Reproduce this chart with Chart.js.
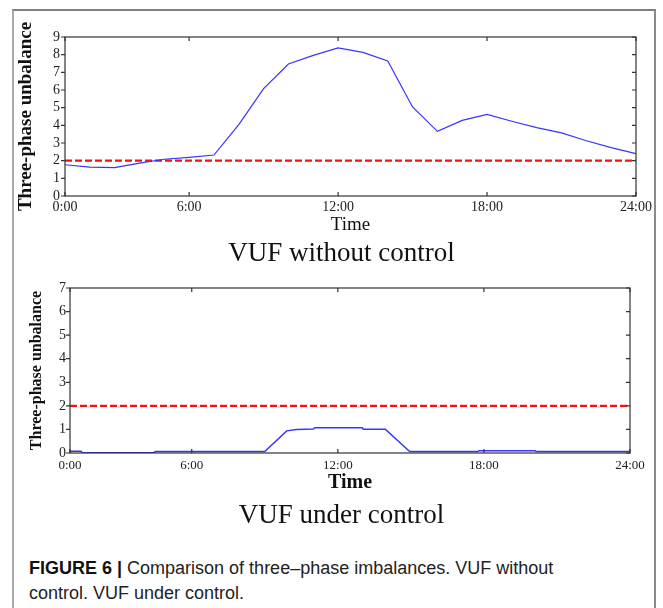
<!DOCTYPE html>
<html>
<head>
<meta charset="utf-8">
<script src="https://cdn.jsdelivr.net/npm/chart.js@4.4.1/dist/chart.umd.min.js"></script>
<style>
  body { margin: 0; width: 663px; height: 608px; background: #fff; overflow: hidden; position: relative; }
  .frame { position: absolute; left: 12px; top: 9px; width: 640px; height: 640px; border: 2px solid #aaa; border-top-color: #808080; border-right-color: #8a8a8a; }
  .box { position: absolute; left: 0; width: 663px; }
  .sub { position: absolute; left: 0; width: 683px; text-align: center; font-family: 'Liberation Serif', 'Times New Roman', serif; font-size: 27px; line-height: 27px; color: #111; }
  .caption { position: absolute; left: 29px; top: 556px; font-family: 'Liberation Sans', Arial, sans-serif; font-size: 18px; line-height: 25px; color: #222; white-space: nowrap; }
  .caption b { color: #111; }
</style>
</head>
<body>
<div class="frame"></div>

<div class="box" style="top:0;height:240px"><canvas id="noControl"></canvas></div>
<div class="sub" style="top:239px">VUF without control</div>

<div class="box" style="top:270px;height:230px"><canvas id="underControl"></canvas></div>
<div class="sub" style="top:501px">VUF under control</div>

<div class="caption"><b>FIGURE 6 |</b> Comparison of three–phase imbalances. VUF without<br>control. VUF under control.</div>

<script>
// x axis runs over hours 1..24, labelled as clock times
const xTickHours = [1, 6, 12, 18, 24];
const xTickLabels = ['0:00', '6:00', '12:00', '18:00', '24:00'];

// VUF without control (hourly)
const hours = [1, 2, 3, 4, 5, 6, 7, 8, 9, 10, 11, 12, 13, 14, 15, 16, 17, 18, 19, 20, 21, 22, 23, 24];
const vufNoControl = [1.77, 1.64, 1.61, 1.86, 2.08, 2.19, 2.32, 4.04, 6.08, 7.47, 7.96, 8.38, 8.13, 7.64, 5.04, 3.66, 4.28, 4.62, 4.23, 3.87, 3.57, 3.13, 2.74, 2.40];

// VUF under control
const ctrlHours = [1, 1.45, 1.5, 4.45, 4.5, 9, 9.9, 10.3, 11, 11.05, 13, 13.05, 13.95, 14.95, 17.75, 17.8, 20.1, 20.15, 24];
const vufControl = [0.07, 0.07, 0.01, 0.01, 0.06, 0.06, 0.94, 1.0, 1.02, 1.07, 1.07, 1.01, 1.01, 0.06, 0.06, 0.1, 0.1, 0.06, 0.06];

const vufLimit = 2;

const serif = "'Liberation Serif', 'Times New Roman', serif";

// MATLAB style box with small ticks
const boxTicks = {
  id: 'boxTicks',
  afterDatasetsDraw(chart) {
    const { ctx, chartArea: a, scales: { x, y } } = chart;
    ctx.save();
    ctx.strokeStyle = '#333';
    ctx.lineWidth = 1.2;
    ctx.strokeRect(a.left, a.top, a.right - a.left, a.bottom - a.top);
    ctx.beginPath();
    xTickHours.forEach(v => {
      const px = x.getPixelForValue(v);
      ctx.moveTo(px, a.bottom); ctx.lineTo(px, a.bottom - 4);
      ctx.moveTo(px, a.top); ctx.lineTo(px, a.top + 4);
    });
    y.ticks.forEach(t => {
      const py = y.getPixelForValue(t.value);
      ctx.moveTo(a.left - 4, py); ctx.lineTo(a.left, py);
      ctx.moveTo(a.right - 4, py); ctx.lineTo(a.right, py);
    });
    ctx.stroke();
    ctx.restore();
  }
};

function makeChart(id, xs, ys, o) {
  const ctx = document.getElementById(id).getContext('2d');
  return new Chart(ctx, {
    type: 'line',
    data: {
      datasets: [
        {
          data: xs.map((h, i) => ({ x: h, y: ys[i] })),
          borderColor: '#3535ff',
          borderWidth: o.lineWidth,
          pointRadius: 0,
          tension: 0
        },
        {
          data: [{ x: xTickHours[0], y: vufLimit }, { x: xTickHours[xTickHours.length - 1], y: vufLimit }],
          borderColor: '#ff0d0d',
          borderWidth: 2.4,
          borderDash: [7, 3],
          pointRadius: 0
        }
      ]
    },
    options: {
      responsive: true,
      maintainAspectRatio: false,
      animation: false,
      layout: { padding: { top: o.top, right: o.right, left: 0, bottom: 0 } },
      plugins: { legend: { display: false }, tooltip: { enabled: false } },
      scales: {
        x: {
          type: 'linear',
          min: 1,
          max: 24,
          afterFit: s => { s.height = o.xHeight; },
          afterBuildTicks: s => { s.ticks = xTickHours.map(v => ({ value: v })); },
          grid: { display: false, drawTicks: false },
          border: { display: false },
          ticks: {
            autoSkip: false,
            maxRotation: 0,
            padding: o.xPad,
            color: '#222',
            font: { family: serif, size: o.xFont, lineHeight: 1 },
            callback: v => xTickLabels[xTickHours.indexOf(v)]
          },
          title: {
            display: true,
            text: 'Time',
            color: '#111',
            font: { family: serif, size: o.timeFont, weight: o.timeWeight, lineHeight: 1 },
            padding: { top: 0, bottom: o.timePad }
          }
        },
        y: {
          min: 0,
          max: o.yMax,
          afterFit: s => { s.width = o.yWidth; },
          grid: { display: false, drawTicks: false },
          border: { display: false },
          ticks: {
            stepSize: 1,
            padding: o.yPad,
            color: '#222',
            font: { family: serif, size: 14, lineHeight: 1 }
          },
          title: {
            display: true,
            text: 'Three-phase unbalance',
            color: '#111',
            font: { family: serif, size: o.yTitleFont, weight: 'bold', lineHeight: 1 },
            padding: { top: o.yTitlePad, bottom: 0 }
          }
        }
      }
    },
    plugins: [boxTicks]
  });
}

makeChart('noControl', hours, vufNoControl, {
  lineWidth: 1.2, top: 37, right: 27, yMax: 9, yWidth: 65, yPad: 5,
  yTitleFont: 19, yTitlePad: 17, xHeight: 44, xPad: 4, xFont: 14,
  timeFont: 19, timeWeight: 'normal', timePad: 5
});

makeChart('underControl', ctrlHours, vufControl, {
  lineWidth: 1.5, top: 18, right: 33, yMax: 7, yWidth: 70, yPad: 4,
  yTitleFont: 16, yTitlePad: 29, xHeight: 47, xPad: 6, xFont: 13,
  timeFont: 20, timeWeight: 'bold', timePad: 7
});
</script>
</body>
</html>
